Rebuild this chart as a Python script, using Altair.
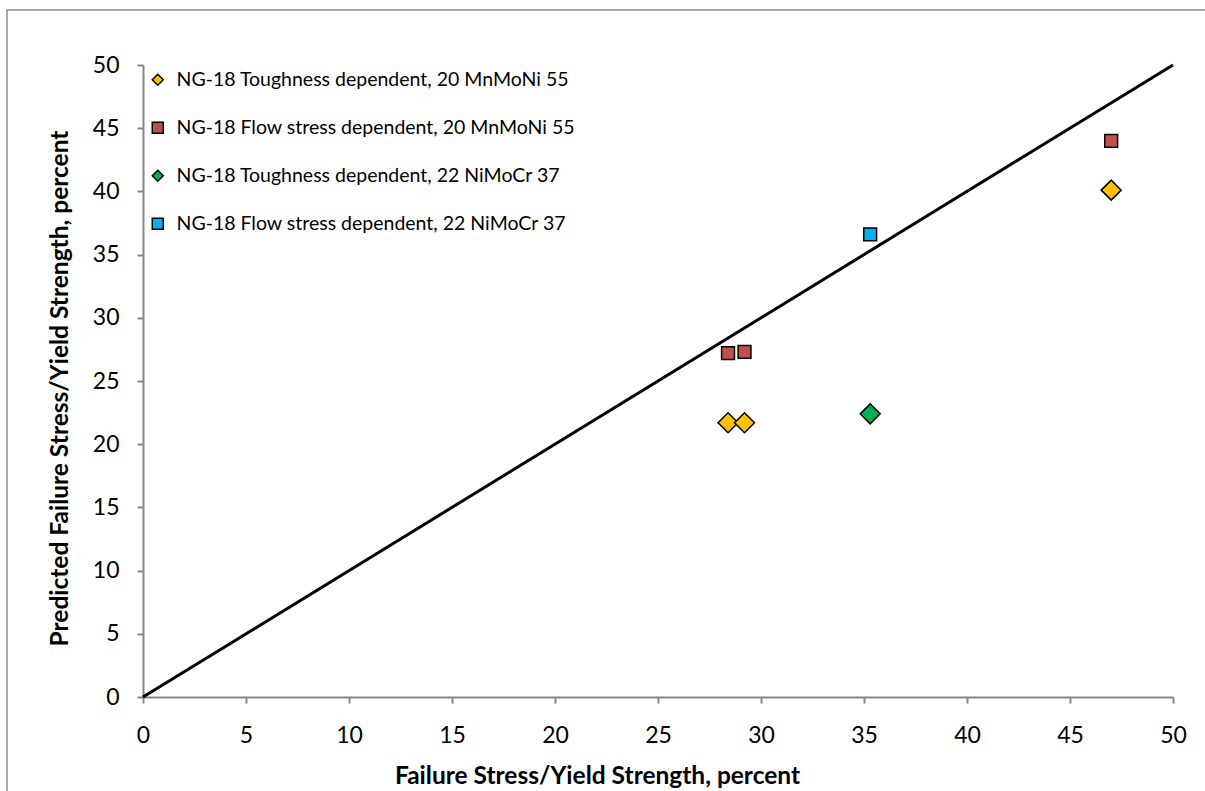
import altair as alt
import pandas as pd

series_names = [
    "NG-18 Toughness dependent, 20 MnMoNi 55",
    "NG-18 Flow stress dependent, 20 MnMoNi 55",
    "NG-18 Toughness dependent, 22 NiMoCr 37",
    "NG-18 Flow stress dependent, 22 NiMoCr 37",
]
series_colors = ["#FFC000", "#C0504D", "#00B050", "#00B0F0"]
series_shapes = ["diamond", "square", "diamond", "square"]

tough_mn_x = [28.4, 29.2, 47.0]
tough_mn_y = [21.7, 21.7, 40.1]
flow_mn_x = [28.4, 29.2, 47.0]
flow_mn_y = [27.2, 27.3, 44.0]
tough_ni_x = [35.3]
tough_ni_y = [22.4]
flow_ni_x = [35.3]
flow_ni_y = [36.6]

line_x = [0, 50]
line_y = [0, 50]

x_ticks = [0, 5, 10, 15, 20, 25, 30, 35, 40, 45, 50]
y_ticks = [0, 5, 10, 15, 20, 25, 30, 35, 40, 45, 50]

rows = []
for name, xs, ys in zip(
    series_names,
    [tough_mn_x, flow_mn_x, tough_ni_x, flow_ni_x],
    [tough_mn_y, flow_mn_y, tough_ni_y, flow_ni_y],
):
    for xv, yv in zip(xs, ys):
        rows.append({"series": name, "x": xv, "y": yv})
df = pd.DataFrame(rows)
diamond_df = df[df["series"].str.contains("Toughness")]
square_df = df[df["series"].str.contains("Flow")]
line_df = pd.DataFrame({"x": line_x, "y": line_y})

FONT = "Lato"
W, H = 1030, 632

xscale = alt.Scale(domain=[0, 50], nice=False)
yscale = alt.Scale(domain=[0, 50], nice=False)

xaxis = alt.Axis(
    values=x_ticks,
    labelFlush=False,
    labelOverlap=False,
    title="Failure Stress/Yield Strength, percent",
    titleX=454,
    titleY=79,
    titleAlign="center",
    titleBaseline="middle",
)
yaxis = alt.Axis(
    values=y_ticks,
    labelFlush=False,
    labelOverlap=False,
    title="Predicted Failure Stress/Yield Strength, percent",
    titleX=-71,
    titleY=323,
    titleAngle=-90,
    titleAlign="center",
    titleBaseline="bottom",
)

fill_enc = alt.Fill(
    "series:N",
    scale=alt.Scale(domain=series_names, range=series_colors),
    legend=alt.Legend(title=None),
)
shape_enc = alt.Shape(
    "series:N",
    scale=alt.Scale(domain=series_names, range=series_shapes),
    legend=alt.Legend(title=None),
)

frame = alt.Chart(pd.DataFrame({"a": [0]})).mark_rect(
    fill="white", fillOpacity=0, stroke="#8C8C8C", strokeWidth=1.5
).encode(
    x=alt.value(-136),
    x2=alt.value(1200),
    y=alt.value(-55),
    y2=alt.value(900),
)

line = alt.Chart(line_df).mark_line(color="black", strokeWidth=3).encode(
    x=alt.X("x:Q", scale=xscale, axis=xaxis),
    y=alt.Y("y:Q", scale=yscale, axis=yaxis),
)

diamonds = alt.Chart(diamond_df).mark_point(
    filled=True, opacity=1, stroke="black", strokeWidth=1.5, size=400
).encode(
    x=alt.X("x:Q", scale=xscale, axis=xaxis),
    y=alt.Y("y:Q", scale=yscale, axis=yaxis),
    fill=fill_enc,
    shape=shape_enc,
)

squares = alt.Chart(square_df).mark_point(
    filled=True, opacity=1, stroke="black", strokeWidth=1.5, size=165
).encode(
    x=alt.X("x:Q", scale=xscale, axis=xaxis),
    y=alt.Y("y:Q", scale=yscale, axis=yaxis),
    fill=fill_enc,
    shape=shape_enc,
)

chart = (
    alt.layer(frame, line, diamonds, squares)
    .properties(
        width=W,
        height=H,
        autosize=alt.AutoSizeParams(type="none"),
        padding={"left": 143, "top": 65, "right": 32, "bottom": 94},
        background="white",
    )
    .configure_view(stroke=None)
    .configure_axis(
        grid=False,
        domainColor="#868686",
        domainWidth=2,
        tickColor="#868686",
        tickWidth=2,
        tickSize=6,
        labelFont=FONT,
        labelFontSize=23,
        labelColor="black",
        titleFont=FONT,
        titleFontSize=24.5,
        titleFontWeight="bold",
        titleColor="black",
    )
    .configure_axisX(labelPadding=21)
    .configure_axisY(labelPadding=18)
    .configure_legend(
        orient="none",
        legendX=5,
        legendY=5,
        labelFont=FONT,
        labelFontSize=19.5,
        labelColor="black",
        labelLimit=600,
        labelOffset=9,
        rowPadding=27,
        symbolSize=120,
        symbolStrokeWidth=1.5,
        symbolOpacity=1,
    )
)

chart.save("out.html", embed_options={"renderer": "svg", "actions": False})
